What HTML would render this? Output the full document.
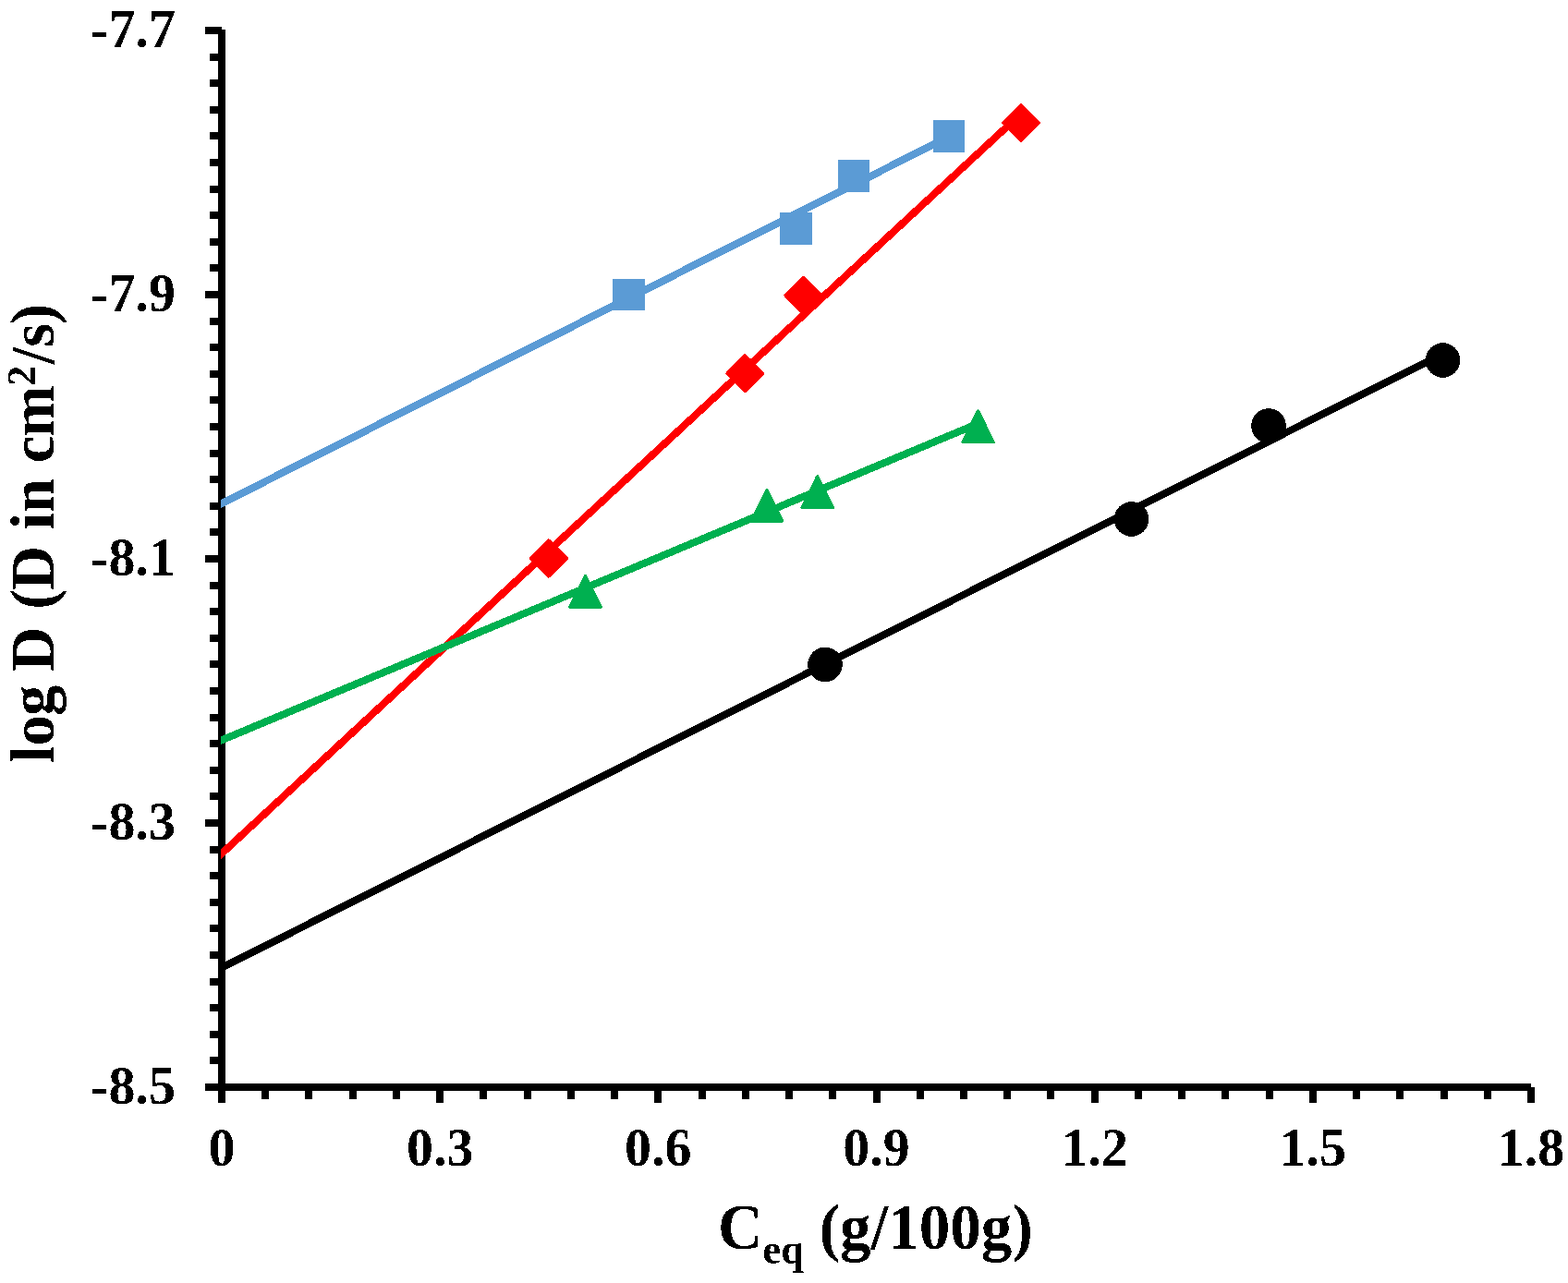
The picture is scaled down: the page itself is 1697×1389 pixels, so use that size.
<!DOCTYPE html>
<html><head><meta charset="utf-8"><title>chart</title>
<style>html,body{margin:0;padding:0;background:#fff;overflow:hidden}svg{display:block}</style>
</head><body>
<svg width="1697" height="1389" viewBox="0 0 1697 1389" shape-rendering="crispEdges">
<defs><filter id="bin" x="0" y="0" width="1697" height="1389" filterUnits="userSpaceOnUse"><feComponentTransfer><feFuncA type="discrete" tableValues="0 1"/></feComponentTransfer></filter></defs>
<rect width="100%" height="100%" fill="#fff"/>
<g shape-rendering="crispEdges"><line x1="240" y1="32" x2="240" y2="1177" stroke="#000" stroke-width="8"/><line x1="240" y1="1177" x2="1657" y2="1177" stroke="#000" stroke-width="8"/><line x1="222" y1="33.00" x2="240" y2="33.00" stroke="#000" stroke-width="8"/><line x1="227" y1="61.60" x2="240" y2="61.60" stroke="#000" stroke-width="8"/><line x1="227" y1="90.20" x2="240" y2="90.20" stroke="#000" stroke-width="8"/><line x1="227" y1="118.80" x2="240" y2="118.80" stroke="#000" stroke-width="8"/><line x1="227" y1="147.40" x2="240" y2="147.40" stroke="#000" stroke-width="8"/><line x1="227" y1="176.00" x2="240" y2="176.00" stroke="#000" stroke-width="8"/><line x1="227" y1="204.60" x2="240" y2="204.60" stroke="#000" stroke-width="8"/><line x1="227" y1="233.20" x2="240" y2="233.20" stroke="#000" stroke-width="8"/><line x1="227" y1="261.80" x2="240" y2="261.80" stroke="#000" stroke-width="8"/><line x1="227" y1="290.40" x2="240" y2="290.40" stroke="#000" stroke-width="8"/><line x1="222" y1="319.00" x2="240" y2="319.00" stroke="#000" stroke-width="8"/><line x1="227" y1="347.60" x2="240" y2="347.60" stroke="#000" stroke-width="8"/><line x1="227" y1="376.20" x2="240" y2="376.20" stroke="#000" stroke-width="8"/><line x1="227" y1="404.80" x2="240" y2="404.80" stroke="#000" stroke-width="8"/><line x1="227" y1="433.40" x2="240" y2="433.40" stroke="#000" stroke-width="8"/><line x1="227" y1="462.00" x2="240" y2="462.00" stroke="#000" stroke-width="8"/><line x1="227" y1="490.60" x2="240" y2="490.60" stroke="#000" stroke-width="8"/><line x1="227" y1="519.20" x2="240" y2="519.20" stroke="#000" stroke-width="8"/><line x1="227" y1="547.80" x2="240" y2="547.80" stroke="#000" stroke-width="8"/><line x1="227" y1="576.40" x2="240" y2="576.40" stroke="#000" stroke-width="8"/><line x1="222" y1="605.00" x2="240" y2="605.00" stroke="#000" stroke-width="8"/><line x1="227" y1="633.60" x2="240" y2="633.60" stroke="#000" stroke-width="8"/><line x1="227" y1="662.20" x2="240" y2="662.20" stroke="#000" stroke-width="8"/><line x1="227" y1="690.80" x2="240" y2="690.80" stroke="#000" stroke-width="8"/><line x1="227" y1="719.40" x2="240" y2="719.40" stroke="#000" stroke-width="8"/><line x1="227" y1="748.00" x2="240" y2="748.00" stroke="#000" stroke-width="8"/><line x1="227" y1="776.60" x2="240" y2="776.60" stroke="#000" stroke-width="8"/><line x1="227" y1="805.20" x2="240" y2="805.20" stroke="#000" stroke-width="8"/><line x1="227" y1="833.80" x2="240" y2="833.80" stroke="#000" stroke-width="8"/><line x1="227" y1="862.40" x2="240" y2="862.40" stroke="#000" stroke-width="8"/><line x1="222" y1="891.00" x2="240" y2="891.00" stroke="#000" stroke-width="8"/><line x1="227" y1="919.60" x2="240" y2="919.60" stroke="#000" stroke-width="8"/><line x1="227" y1="948.20" x2="240" y2="948.20" stroke="#000" stroke-width="8"/><line x1="227" y1="976.80" x2="240" y2="976.80" stroke="#000" stroke-width="8"/><line x1="227" y1="1005.40" x2="240" y2="1005.40" stroke="#000" stroke-width="8"/><line x1="227" y1="1034.00" x2="240" y2="1034.00" stroke="#000" stroke-width="8"/><line x1="227" y1="1062.60" x2="240" y2="1062.60" stroke="#000" stroke-width="8"/><line x1="227" y1="1091.20" x2="240" y2="1091.20" stroke="#000" stroke-width="8"/><line x1="227" y1="1119.80" x2="240" y2="1119.80" stroke="#000" stroke-width="8"/><line x1="227" y1="1148.40" x2="240" y2="1148.40" stroke="#000" stroke-width="8"/><line x1="222" y1="1177.00" x2="240" y2="1177.00" stroke="#000" stroke-width="8"/><line x1="240.00" y1="1177" x2="240.00" y2="1194" stroke="#000" stroke-width="8"/><line x1="287.23" y1="1177" x2="287.23" y2="1190" stroke="#000" stroke-width="8"/><line x1="334.47" y1="1177" x2="334.47" y2="1190" stroke="#000" stroke-width="8"/><line x1="381.70" y1="1177" x2="381.70" y2="1190" stroke="#000" stroke-width="8"/><line x1="428.93" y1="1177" x2="428.93" y2="1190" stroke="#000" stroke-width="8"/><line x1="476.17" y1="1177" x2="476.17" y2="1194" stroke="#000" stroke-width="8"/><line x1="523.40" y1="1177" x2="523.40" y2="1190" stroke="#000" stroke-width="8"/><line x1="570.63" y1="1177" x2="570.63" y2="1190" stroke="#000" stroke-width="8"/><line x1="617.87" y1="1177" x2="617.87" y2="1190" stroke="#000" stroke-width="8"/><line x1="665.10" y1="1177" x2="665.10" y2="1190" stroke="#000" stroke-width="8"/><line x1="712.33" y1="1177" x2="712.33" y2="1194" stroke="#000" stroke-width="8"/><line x1="759.57" y1="1177" x2="759.57" y2="1190" stroke="#000" stroke-width="8"/><line x1="806.80" y1="1177" x2="806.80" y2="1190" stroke="#000" stroke-width="8"/><line x1="854.03" y1="1177" x2="854.03" y2="1190" stroke="#000" stroke-width="8"/><line x1="901.27" y1="1177" x2="901.27" y2="1190" stroke="#000" stroke-width="8"/><line x1="948.50" y1="1177" x2="948.50" y2="1194" stroke="#000" stroke-width="8"/><line x1="995.73" y1="1177" x2="995.73" y2="1190" stroke="#000" stroke-width="8"/><line x1="1042.97" y1="1177" x2="1042.97" y2="1190" stroke="#000" stroke-width="8"/><line x1="1090.20" y1="1177" x2="1090.20" y2="1190" stroke="#000" stroke-width="8"/><line x1="1137.43" y1="1177" x2="1137.43" y2="1190" stroke="#000" stroke-width="8"/><line x1="1184.67" y1="1177" x2="1184.67" y2="1194" stroke="#000" stroke-width="8"/><line x1="1231.90" y1="1177" x2="1231.90" y2="1190" stroke="#000" stroke-width="8"/><line x1="1279.13" y1="1177" x2="1279.13" y2="1190" stroke="#000" stroke-width="8"/><line x1="1326.37" y1="1177" x2="1326.37" y2="1190" stroke="#000" stroke-width="8"/><line x1="1373.60" y1="1177" x2="1373.60" y2="1190" stroke="#000" stroke-width="8"/><line x1="1420.83" y1="1177" x2="1420.83" y2="1194" stroke="#000" stroke-width="8"/><line x1="1468.07" y1="1177" x2="1468.07" y2="1190" stroke="#000" stroke-width="8"/><line x1="1515.30" y1="1177" x2="1515.30" y2="1190" stroke="#000" stroke-width="8"/><line x1="1562.53" y1="1177" x2="1562.53" y2="1190" stroke="#000" stroke-width="8"/><line x1="1609.77" y1="1177" x2="1609.77" y2="1190" stroke="#000" stroke-width="8"/><line x1="1657.00" y1="1177" x2="1657.00" y2="1194" stroke="#000" stroke-width="8"/></g>
<defs><clipPath id="pa"><rect x="239" y="0" width="1458" height="1389"/></clipPath></defs>
<g clip-path="url(#pa)"><line x1="225.00" y1="552.56" x2="1027.00" y2="147.95" stroke="#5B9BD5" stroke-width="8"/></g>
<rect x="665.00" y="303.50" width="31.00" height="31.00" fill="#5B9BD5" stroke="#5B9BD5" stroke-width="3.5" stroke-linejoin="miter"/>
<rect x="846.00" y="232.10" width="31.00" height="31.00" fill="#5B9BD5" stroke="#5B9BD5" stroke-width="3.5" stroke-linejoin="miter"/>
<rect x="908.70" y="175.00" width="31.00" height="31.00" fill="#5B9BD5" stroke="#5B9BD5" stroke-width="3.5" stroke-linejoin="miter"/>
<rect x="1011.50" y="132.00" width="31.00" height="31.00" fill="#5B9BD5" stroke="#5B9BD5" stroke-width="3.5" stroke-linejoin="miter"/>
<g clip-path="url(#pa)"><line x1="225.00" y1="937.96" x2="1105.00" y2="123.08" stroke="#FF0000" stroke-width="8"/></g>
<polygon points="593.90,585.50 612.90,604.50 593.90,623.50 574.90,604.50" fill="#FF0000" stroke="#FF0000" stroke-width="4" stroke-linejoin="round"/>
<polygon points="806.30,385.30 825.30,404.30 806.30,423.30 787.30,404.30" fill="#FF0000" stroke="#FF0000" stroke-width="4" stroke-linejoin="round"/>
<polygon points="869.40,300.80 888.40,319.80 869.40,338.80 850.40,319.80" fill="#FF0000" stroke="#FF0000" stroke-width="4" stroke-linejoin="round"/>
<polygon points="1105.00,114.00 1124.00,133.00 1105.00,152.00 1086.00,133.00" fill="#FF0000" stroke="#FF0000" stroke-width="4" stroke-linejoin="round"/>
<g clip-path="url(#pa)"><line x1="225.00" y1="807.56" x2="1058.50" y2="458.58" stroke="#00B050" stroke-width="8"/></g>
<polygon points="633.50,623.70 650.00,657.30 617.00,657.30" fill="#00B050" stroke="#00B050" stroke-width="3.5" stroke-linejoin="round"/>
<polygon points="830.00,530.50 846.50,564.10 813.50,564.10" fill="#00B050" stroke="#00B050" stroke-width="3.5" stroke-linejoin="round"/>
<polygon points="884.70,516.00 901.20,549.60 868.20,549.60" fill="#00B050" stroke="#00B050" stroke-width="3.5" stroke-linejoin="round"/>
<polygon points="1058.50,445.10 1075.00,478.70 1042.00,478.70" fill="#00B050" stroke="#00B050" stroke-width="3.5" stroke-linejoin="round"/>
<g clip-path="url(#pa)"><line x1="225.00" y1="1055.04" x2="1561.50" y2="383.05" stroke="#000000" stroke-width="8"/></g>
<circle cx="893.00" cy="719.40" r="18.8" fill="#000000"/>
<circle cx="1224.50" cy="562.00" r="18.8" fill="#000000"/>
<circle cx="1373.00" cy="461.00" r="18.8" fill="#000000"/>
<circle cx="1561.50" cy="390.00" r="18.8" fill="#000000"/>
<g filter="url(#bin)">
<text transform="translate(190,51.0) scale(1,1.025)" font-family="'Liberation Serif', 'Times New Roman', serif" font-weight="bold" font-size="58" text-anchor="end">-7.7</text>
<text transform="translate(190,337.0) scale(1,1.025)" font-family="'Liberation Serif', 'Times New Roman', serif" font-weight="bold" font-size="58" text-anchor="end">-7.9</text>
<text transform="translate(190,623.0) scale(1,1.025)" font-family="'Liberation Serif', 'Times New Roman', serif" font-weight="bold" font-size="58" text-anchor="end">-8.1</text>
<text transform="translate(190,909.0) scale(1,1.025)" font-family="'Liberation Serif', 'Times New Roman', serif" font-weight="bold" font-size="58" text-anchor="end">-8.3</text>
<text transform="translate(190,1195.0) scale(1,1.025)" font-family="'Liberation Serif', 'Times New Roman', serif" font-weight="bold" font-size="58" text-anchor="end">-8.5</text>
<text transform="translate(240.00,1262) scale(1,1.025)" font-family="'Liberation Serif', 'Times New Roman', serif" font-weight="bold" font-size="58" text-anchor="middle">0</text>
<text transform="translate(476.17,1262) scale(1,1.025)" font-family="'Liberation Serif', 'Times New Roman', serif" font-weight="bold" font-size="58" text-anchor="middle">0.3</text>
<text transform="translate(712.33,1262) scale(1,1.025)" font-family="'Liberation Serif', 'Times New Roman', serif" font-weight="bold" font-size="58" text-anchor="middle">0.6</text>
<text transform="translate(948.50,1262) scale(1,1.025)" font-family="'Liberation Serif', 'Times New Roman', serif" font-weight="bold" font-size="58" text-anchor="middle">0.9</text>
<text transform="translate(1184.67,1262) scale(1,1.025)" font-family="'Liberation Serif', 'Times New Roman', serif" font-weight="bold" font-size="58" text-anchor="middle">1.2</text>
<text transform="translate(1420.83,1262) scale(1,1.025)" font-family="'Liberation Serif', 'Times New Roman', serif" font-weight="bold" font-size="58" text-anchor="middle">1.5</text>
<text transform="translate(1657.00,1262) scale(1,1.025)" font-family="'Liberation Serif', 'Times New Roman', serif" font-weight="bold" font-size="58" text-anchor="middle">1.8</text>
<text transform="translate(777,1352) scale(0.987,1.025)" font-family="'Liberation Serif', 'Times New Roman', serif" font-weight="bold" font-size="68">C<tspan font-size="45" dy="16">eq</tspan><tspan dy="-16"> (g/100g)</tspan></text>
<text transform="translate(58,826) rotate(-90) scale(0.978,1)" font-family="'Liberation Serif', 'Times New Roman', serif" font-weight="bold" font-size="68" dx="0.0 0.0 -0.72 -0.0 -1.64 -0.0 2.25 -1.43 -0.0 1.02 -0.41 -0.0 0.51 -1.12">log D (D in cm<tspan font-size="45" dy="-20" dx="-0.41">2</tspan><tspan dy="20" dx="1.43 0.1 -1.02">/s)</tspan></text>
</g>
</svg>
</body></html>
